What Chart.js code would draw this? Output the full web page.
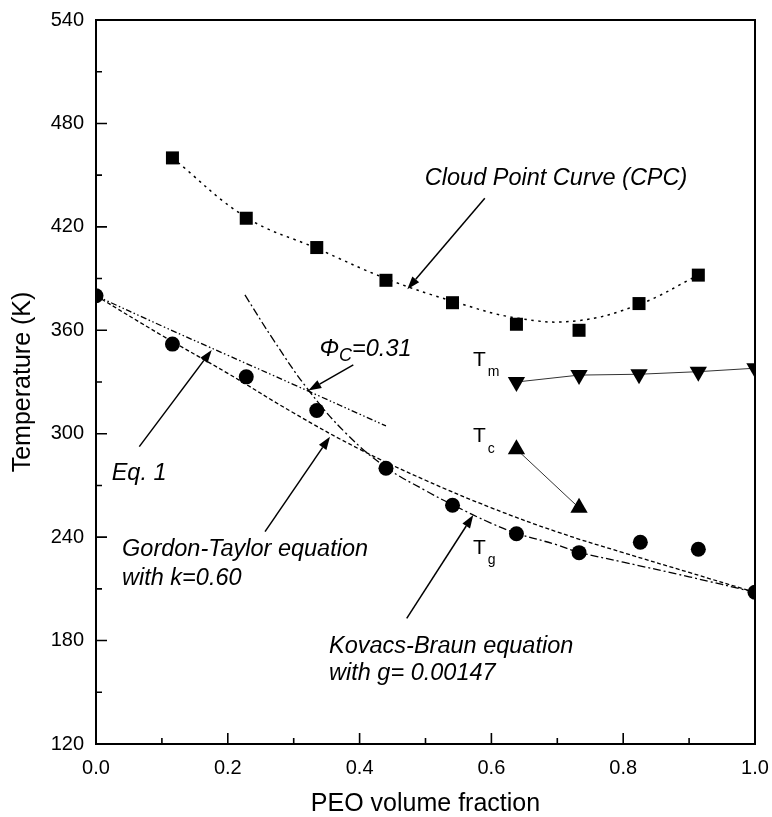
<!DOCTYPE html>
<html>
<head>
<meta charset="utf-8">
<script src="https://cdn.jsdelivr.net/npm/chart.js@4/dist/chart.umd.min.js"></script>
<style>
  body { margin: 0; background: #fff; }
  #wrap { width: 772px; height: 817px; }
</style>
</head>
<body>
<div id="wrap"><canvas id="phase"></canvas></div>
<script>
// measured points
const cpcPhi = [0.116, 0.228, 0.335, 0.440, 0.541, 0.638, 0.733, 0.824, 0.914];
const cpcTemp = [460, 425, 408, 389, 376, 363.5, 360, 375.5, 392];

const tgPhi = [0, 0.116, 0.228, 0.335, 0.440, 0.541, 0.638, 0.733, 0.826, 0.914, 1.0];
const tgTemp = [380, 352, 333, 313.5, 280, 258.5, 242, 231, 237, 233, 208];

const tmPhi = [0.638, 0.733, 0.824, 0.914, 1.0];
const tmTemp = [330, 334, 334.5, 336, 338];

const tcPhi = [0.638, 0.733];
const tcTemp = [291, 257];

// fitted curves
const cpcFitPhi = [0.116, 0.228, 0.335, 0.44, 0.54, 0.64, 0.73, 0.824, 0.914];
const cpcFitTemp = [460, 425.5, 407.5, 390, 377, 367, 365.5, 375, 392];

const eq1Phi = [0, 0.1, 0.2, 0.3, 0.44];
const eq1Temp = [380, 362.5, 345.5, 328.5, 304.5];

const gtPhi = [0, 0.1, 0.2, 0.3, 0.4, 0.5, 0.6, 0.7, 0.8, 0.9, 1.0];
const gtTemp = [380, 357, 335, 312, 291, 273, 257, 243, 231, 219.5, 208];

const kbPhi = [0.226, 0.27, 0.322, 0.38, 0.44, 0.5, 0.54, 0.6, 0.64, 0.7, 0.73, 0.8, 0.9, 1.0];
const kbTemp = [380.5, 354, 325.5, 300, 280.5, 267, 259, 248, 242, 235.5, 231.5, 225.5, 217, 208];

// axis ticks
const xMajor = [0, 0.2, 0.4, 0.6, 0.8, 1.0];
const xMinor = [0.1, 0.3, 0.5, 0.7, 0.9];
const yMajor = [120, 180, 240, 300, 360, 420, 480, 540];
const yMinor = [150, 210, 270, 330, 390, 450, 510];

const FONT = '"Liberation Sans", Arial, sans-serif';

function pts(xs, ys) {
    return xs.map((v, i) => ({ x: v, y: ys[i] }));
}

function marker(data, style, radius, rotation) {
    return {
        data: data,
        showLine: false,
        pointStyle: style,
        pointRadius: radius,
        pointRotation: rotation || 0,
        pointBackgroundColor: '#000',
        pointBorderWidth: 0,
        clip: 0
    };
}

function curve(data, dash, width) {
    return {
        data: data,
        showLine: true,
        borderColor: '#000',
        borderWidth: width,
        borderDash: dash,
        pointRadius: 0,
        tension: 0.4,
        clip: 0
    };
}

// inward ticks + box
const frame = {
    id: 'frame',
    afterDatasetsDraw(chart) {
        const { ctx, chartArea: a, scales: { x, y } } = chart;
        ctx.save();
        ctx.strokeStyle = '#000';
        ctx.lineWidth = 1.6;
        ctx.beginPath();
        xMajor.forEach(v => { const p = x.getPixelForValue(v); ctx.moveTo(p, a.bottom); ctx.lineTo(p, a.bottom - 11); });
        xMinor.forEach(v => { const p = x.getPixelForValue(v); ctx.moveTo(p, a.bottom); ctx.lineTo(p, a.bottom - 6); });
        yMajor.forEach(v => { const p = y.getPixelForValue(v); ctx.moveTo(a.left, p); ctx.lineTo(a.left + 11, p); });
        yMinor.forEach(v => { const p = y.getPixelForValue(v); ctx.moveTo(a.left, p); ctx.lineTo(a.left + 6, p); });
        ctx.stroke();
        ctx.lineWidth = 2;
        ctx.strokeRect(a.left, a.top, a.right - a.left, a.bottom - a.top);
        ctx.restore();
    }
};

// labels and arrows, placed in data units
const notes = {
    id: 'notes',
    afterDraw(chart) {
        const { ctx, scales: { x, y } } = chart;
        const px = v => x.getPixelForValue(v);
        const py = v => y.getPixelForValue(v);

        function arrow(x0, y0, x1, y1) {
            const a0 = px(x0), b0 = py(y0), a1 = px(x1), b1 = py(y1);
            const ang = Math.atan2(b1 - b0, a1 - a0);
            const len = 13, hw = 4.5;
            const bx = a1 - len * Math.cos(ang), by = b1 - len * Math.sin(ang);
            ctx.beginPath();
            ctx.moveTo(a0, b0);
            ctx.lineTo(bx, by);
            ctx.lineWidth = 1.5;
            ctx.stroke();
            ctx.beginPath();
            ctx.moveTo(a1, b1);
            ctx.lineTo(bx + hw * Math.sin(ang), by - hw * Math.cos(ang));
            ctx.lineTo(bx - hw * Math.sin(ang), by + hw * Math.cos(ang));
            ctx.closePath();
            ctx.fill();
        }

        function text(s, xv, yv, font) {
            ctx.font = font;
            ctx.fillText(s, px(xv), py(yv));
        }

        function sub(main, small, xv, yv) {
            ctx.font = '21px ' + FONT;
            const p = px(xv), q = py(yv);
            ctx.fillText(main, p, q);
            const w = ctx.measureText(main).width;
            ctx.font = '14px ' + FONT;
            ctx.fillText(small, p + w + 2, q + 12);
        }

        ctx.save();
        ctx.fillStyle = '#000';
        ctx.strokeStyle = '#000';
        ctx.textAlign = 'left';
        ctx.textBaseline = 'middle';
        const it = 'italic 23.5px ' + FONT;

        text('Cloud Point Curve (CPC)', 0.499, 448.3, it);
        arrow(0.590, 436.6, 0.4724, 383.8);

        // phi_c label
        ctx.font = it;
        let p = px(0.339), q = py(348.6);
        ctx.fillText('\u03A6', p, q);
        p += ctx.measureText('\u03A6').width;
        ctx.font = 'italic 18px ' + FONT;
        ctx.fillText('C', p, q + 6);
        p += ctx.measureText('C').width;
        ctx.font = it;
        ctx.fillText('=0.31', p, q);
        arrow(0.3905, 339.9, 0.3222, 325.0);

        text('Eq. 1', 0.0238, 277, it);
        arrow(0.0657, 292.5, 0.1756, 348.6);

        text('Gordon-Taylor equation', 0.0395, 232.6, it);
        text('with k=0.60', 0.0395, 216.1, it);
        arrow(0.2565, 243.2, 0.3551, 298.3);

        text('Kovacs-Braun equation', 0.3536, 176.5, it);
        text('with g= 0.00147', 0.3536, 161, it);
        arrow(0.4715, 192.9, 0.5725, 252.8);

        sub('T', 'm', 0.572, 342.8);
        sub('T', 'c', 0.572, 298.3);
        sub('T', 'g', 0.572, 233.5);
        ctx.restore();
    }
};

const ctx = document.getElementById('phase').getContext('2d');

new Chart(ctx, {
    type: 'scatter',
    data: {
        datasets: [
            marker(pts(cpcPhi, cpcTemp), 'rect', 9.2),
            marker(pts(tgPhi, tgTemp), 'circle', 7.5),
            marker(pts(tmPhi, tmTemp), 'triangle', 10, 180),
            marker(pts(tcPhi, tcTemp), 'triangle', 10),
            Object.assign(curve(pts(tmPhi, tmTemp), [], 1), { tension: 0, borderColor: '#333' }),
            Object.assign(curve(pts(tcPhi, tcTemp), [], 1), { tension: 0, borderColor: '#333' }),
            curve(pts(cpcFitPhi, cpcFitTemp), [2.5, 4.5], 1.5),
            curve(pts(eq1Phi, eq1Temp), [6, 2.5, 1.5, 2.5, 1.5, 2.5], 1.3),
            curve(pts(gtPhi, gtTemp), [4, 2.5], 1.3),
            curve(pts(kbPhi, kbTemp), [8, 3, 2, 3], 1.3)
        ]
    },
    options: {
        responsive: true,
        maintainAspectRatio: false,
        animation: false,
        layout: { padding: { left: 0, right: 17, top: 20, bottom: 0 } },
        plugins: {
            legend: { display: false },
            tooltip: { enabled: false }
        },
        scales: {
            x: {
                type: 'linear',
                min: 0,
                max: 1,
                grid: { display: false, drawTicks: false },
                border: { display: false },
                afterFit(scale) {
                    scale.height = 73;
                    scale.paddingLeft = 0;
                    scale.paddingRight = 0;
                },
                ticks: {
                    stepSize: 0.2,
                    padding: 12,
                    color: '#000',
                    font: { family: FONT, size: 20 },
                    callback: v => v.toFixed(1)
                },
                title: {
                    display: true,
                    text: 'PEO volume fraction',
                    color: '#000',
                    font: { family: FONT, size: 25, lineHeight: 1 },
                    padding: { top: 0, bottom: 0 }
                }
            },
            y: {
                min: 120,
                max: 540,
                grid: { display: false, drawTicks: false },
                border: { display: false },
                afterFit(scale) {
                    scale.width = 96;
                    scale.paddingTop = 0;
                    scale.paddingBottom = 0;
                },
                ticks: {
                    stepSize: 60,
                    padding: 12,
                    color: '#000',
                    font: { family: FONT, size: 20 }
                },
                title: {
                    display: true,
                    text: 'Temperature (K)',
                    color: '#000',
                    font: { family: FONT, size: 25, lineHeight: 1 },
                    padding: { top: 11, bottom: 0 }
                }
            }
        }
    },
    plugins: [frame, notes]
});
</script>
</body>
</html>
